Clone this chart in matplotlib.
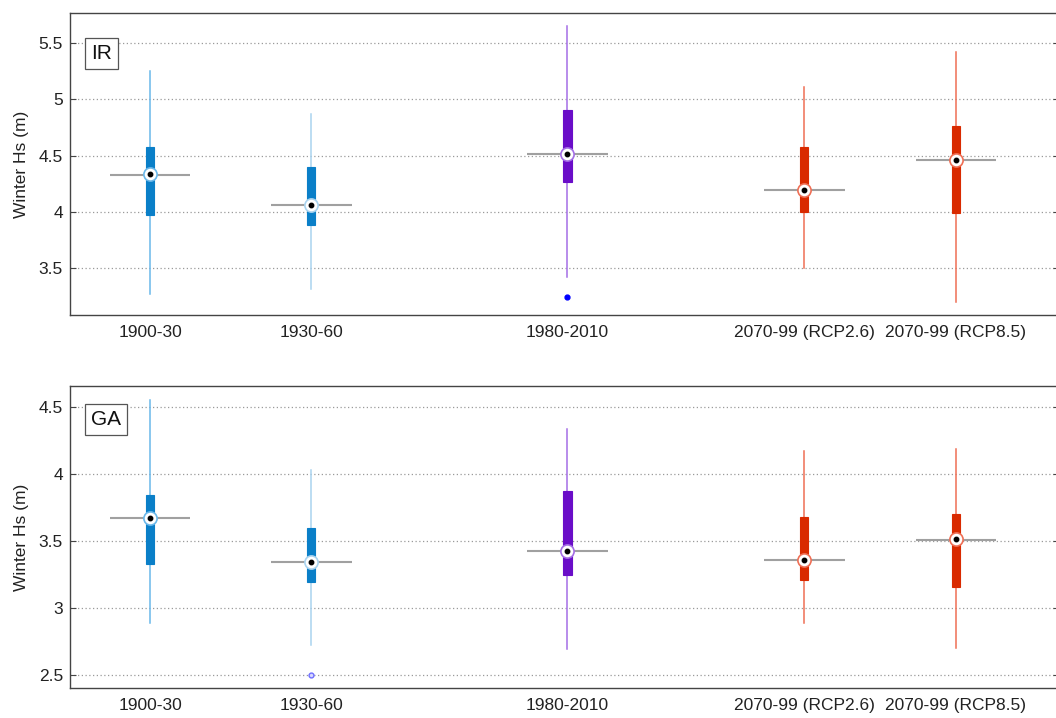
import matplotlib
matplotlib.use("Agg")
import matplotlib.pyplot as plt

plt.rcParams['font.family'] = ['Liberation Sans', 'DejaVu Sans']

categories = ["1900-30", "1930-60", "1980-2010", "2070-99 (RCP2.6)", "2070-99 (RCP8.5)"]
positions = [1.0, 2.0, 3.59, 5.06, 6.0]

# IR panel
ir_whislo = [3.27, 3.31, 3.415, 3.50, 3.20]
ir_q1 = [3.97, 3.885, 4.265, 4.00, 3.99]
ir_med = [4.336, 4.06, 4.51, 4.19, 4.46]
ir_q3 = [4.575, 4.40, 4.91, 4.58, 4.76]
ir_whishi = [5.25, 4.87, 5.65, 5.11, 5.42]
ir_mean = [4.33, 4.06, 4.51, 4.19, 4.46]
ir_fliers = [[], [], [3.24], [], []]

# GA panel
ga_whislo = [2.89, 2.72, 2.69, 2.89, 2.70]
ga_q1 = [3.326, 3.19, 3.245, 3.21, 3.155]
ga_med = [3.672, 3.343, 3.425, 3.36, 3.515]
ga_q3 = [3.846, 3.60, 3.875, 3.68, 3.70]
ga_whishi = [4.557, 4.03, 4.336, 4.17, 4.19]
ga_mean = [3.672, 3.343, 3.425, 3.36, 3.51]
ga_fliers = [[], [2.50], [], [], []]

box_colors = ["#0a7fc8", "#0a7fc8", "#6a0dc8", "#d92a00", "#d92a00"]
whisk_colors = ["#6ab8ea", "#a9d3ef", "#a46ee6", "#ef6f55", "#ef6f55"]

fig = plt.figure(figsize=(10.56, 7.18), dpi=100)
W, H = 1056, 718
left = 70 / W
width = (1059 - 70) / W
ax_top = fig.add_axes([left, 1 - 315 / H, width, (315 - 13) / H])
ax_bot = fig.add_axes([left, 1 - 688 / H, width, (688 - 386) / H])

FS = 12.5


def draw(ax, whislo, q1, med, q3, whishi, mean, fliers, ylim, yticks, yticklabels,
         tag, tag_xy, flier_open):
    stats = []
    for i in range(len(categories)):
        stats.append(dict(whislo=whislo[i], q1=q1[i], med=med[i], q3=q3[i],
                          whishi=whishi[i], fliers=[], mean=mean[i], label=categories[i]))
    for y in yticks:
        ax.axhline(y, color="#9a9a9a", lw=0.9, ls=(0, (1, 2)), zorder=0)
    for p, m in zip(positions, mean):
        ax.hlines(m, p - 0.25, p + 0.25, color="#a0a0a0", lw=1.5, zorder=1)
    b = ax.bxp(stats, positions=positions, widths=0.05, patch_artist=True,
               showcaps=False, showfliers=False, manage_ticks=False,
               medianprops=dict(linewidth=0))
    for i, box in enumerate(b['boxes']):
        box.set_facecolor(box_colors[i])
        box.set_edgecolor(box_colors[i])
        box.set_linewidth(0.8)
        box.set_zorder(3)
    for i, wk in enumerate(b['whiskers']):
        wk.set_color(whisk_colors[i // 2])
        wk.set_linewidth(1.1)
        wk.set_linestyle('-')
        wk.set_zorder(2)
    for i, p in enumerate(positions):
        ax.plot(p, med[i], marker='o', ms=9.5, mfc='white', mec=whisk_colors[i], mew=1.2, zorder=4)
        ax.plot(p, med[i], marker='o', ms=3.2, mfc='black', mec='black', zorder=5)
        for f in fliers[i]:
            if flier_open:
                ax.plot(p, f, marker='o', ms=3.5, mfc='#d8d8ff', mec='#6f6fff', mew=1.0, zorder=4)
            else:
                ax.plot(p, f, marker='o', ms=3.5, mfc='#0000ff', mec='#0000ff', zorder=4)
    ax.set_xlim(0.503, 6.64)
    ax.set_ylim(*ylim)
    ax.set_xticks(positions)
    ax.set_xticklabels(categories, fontsize=FS, color="#222222")
    ax.set_yticks(yticks)
    ax.set_yticklabels(yticklabels, fontsize=FS, color="#222222")
    ax.tick_params(axis='x', length=0, pad=7.5)
    ax.tick_params(axis='y', direction='in', length=4, color="#444444", right=True, pad=5)
    ax.set_ylabel("Winter Hs (m)", fontsize=FS, color="#222222", labelpad=7)
    for s in ax.spines.values():
        s.set_color("#444444")
        s.set_linewidth(1.0)
    ax.text(tag_xy[0], tag_xy[1], tag, transform=ax.transAxes, fontsize=15, va='top', ha='left',
            color="#111111",
            bbox=dict(boxstyle='square,pad=0.3', fc='white', ec='#555555', lw=0.9), zorder=6)


draw(ax_top, ir_whislo, ir_q1, ir_med, ir_q3, ir_whishi, ir_mean, ir_fliers,
     (3.08, 5.77), [3.5, 4, 4.5, 5, 5.5], ["3.5", "4", "4.5", "5", "5.5"],
     "IR", (0.021, 0.897), False)
draw(ax_bot, ga_whislo, ga_q1, ga_med, ga_q3, ga_whishi, ga_mean, ga_fliers,
     (2.40, 4.66), [2.5, 3, 3.5, 4, 4.5], ["2.5", "3", "3.5", "4", "4.5"],
     "GA", (0.021, 0.92), True)

fig.savefig("out.png", dpi=100)
